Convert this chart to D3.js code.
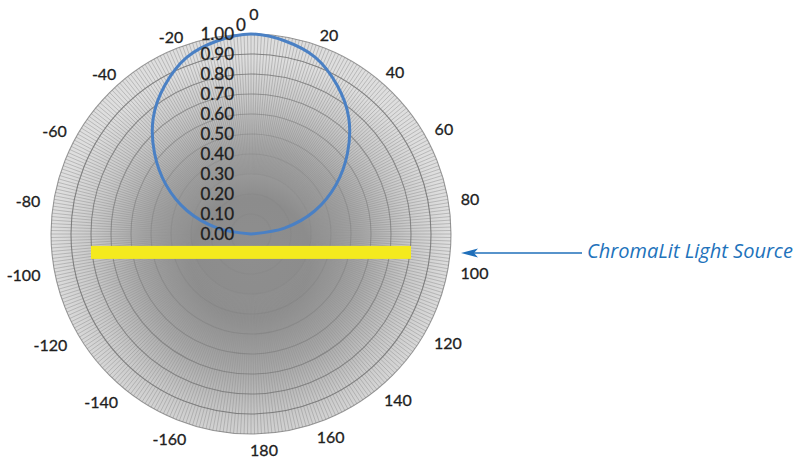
<!DOCTYPE html>
<html><head><meta charset="utf-8">
<script src="https://cdn.jsdelivr.net/npm/d3@7"></script>
<style>html,body{margin:0;padding:0;background:#fff;}svg{display:block;}</style>
</head><body>
<script>
// ---- data ----
const angles = [-90,-80,-70,-60,-50,-40,-30,-20,-10,0,10,20,30,40,50,60,70,80,90];
const intensity = [0.00,0.17,0.34,0.49,0.63,0.76,0.86,0.94,0.98,1.00,0.98,0.94,0.86,0.76,0.63,0.49,0.34,0.17,0.00];
const radialTicks = [0.00,0.10,0.20,0.30,0.40,0.50,0.60,0.70,0.80,0.90,1.00];
const angleTicks = [0,20,40,60,80,100,120,140,160,180,-160,-140,-120,-100,-80,-60,-40,-20];
const angleTickLabels = ["0","20","40","60","80","100","120","140","160","180","-160","-140","-120","-100","-80","-60","-40","-20"];
const spokeAngles = d3.range(0,360,1);
const lightSourceX = [-0.80, 0.80];
const lightSourceY = -0.092;
const annotation = "ChromaLit Light Source";
const radialTitle = "0";

const W=802,H=460,cx=251,cy=234,R=200;
const svg=d3.select("body").append("svg").attr("width",W).attr("height",H);
svg.append("rect").attr("width",W).attr("height",H).attr("fill","#fff");

const r=d3.scaleLinear().domain([0,1]).range([0,R]);
const a=d3.scaleLinear().domain([0,360]).range([0,2*Math.PI]);
const xs=d3.scaleLinear().domain([-1,1]).range([cx-R,cx+R]);
const ys=d3.scaleLinear().domain([-1,1]).range([cy+R,cy-R]);
const FONT="Lato, 'Open Sans', sans-serif";

const defs=svg.append("defs");
const g1=defs.append("radialGradient").attr("id","bg").attr("cx","50%").attr("cy","56%").attr("r","50%");
[[0,"#8e8e8e"],[0.3,"#8c8c8c"],[0.55,"#a6a6a6"],[0.8,"#cacaca"],[1,"#dedede"]].forEach(s=>g1.append("stop").attr("offset",s[0]).attr("stop-color",s[1]));

const g=svg.append("g").attr("transform",`translate(${cx},${cy})`);
g.append("circle").attr("r",r(1)).attr("fill","url(#bg)");
// spokes
g.append("g").selectAll("line").data(spokeAngles).join("line")
 .attr("x1",d=>r(0.3)*Math.sin(a(d))).attr("y1",d=>-r(0.3)*Math.cos(a(d)))
 .attr("x2",d=>r(1)*Math.sin(a(d))).attr("y2",d=>-r(1)*Math.cos(a(d)))
 .attr("stroke","#939393").attr("stroke-width",0.6).attr("stroke-opacity",0.85);
// rings
g.append("g").selectAll("circle").data(radialTicks.filter(d=>d>0)).join("circle")
 .attr("r",d=>r(d)).attr("fill","none")
 .attr("stroke","#727272").attr("stroke-width",1.1).attr("stroke-opacity",d=>d===1?0.7:Math.min(0.85,Math.max(0.12,(d-0.25)*1.4)));

// series
const pts=intensity.map((v,i)=>[a(angles[i]),r(v)]);
g.append("path").attr("d",d3.lineRadial().curve(d3.curveCatmullRomClosed)(pts))
 .attr("fill","none").attr("stroke","#4a80c4").attr("stroke-width",3);

// radial tick labels
svg.append("g").selectAll("text").data(radialTicks).join("text")
 .attr("x",cx-17).attr("y",d=>cy-r(d)+2).attr("text-anchor","end").attr("dominant-baseline","middle")
 .attr("font-family",FONT).attr("font-size",17).attr("fill","#1e1e1e").attr("stroke","#1e1e1e").attr("stroke-width",0.3)
 .text(d=>d.toFixed(2));
svg.append("text").attr("x",cx-10).attr("y",cy-r(1)-7).attr("text-anchor","middle").attr("dominant-baseline","middle")
 .attr("font-family",FONT).attr("font-size",17).attr("fill","#1e1e1e").attr("stroke","#1e1e1e").attr("stroke-width",0.3).text(radialTitle);

// angle labels
const al=svg.append("g").selectAll("text").data(angleTicks).join("text")
 .attr("font-family",FONT).attr("font-size",16).attr("fill","#1e1e1e").attr("stroke","#1e1e1e").attr("stroke-width",0.3)
 .attr("text-anchor","middle").attr("dominant-baseline","middle")
 .text((d,i)=>angleTickLabels[i]);
al.each(function(d){
  const t=a(d<0?d+360:d), s=Math.sin(t), c=Math.cos(t);
  const w=this.getComputedTextLength(), h=14;
  let px=cx+(r(1)+7)*s + s*(w/2+3) + 3;
  let py=cy-(r(1)+7)*c - c*(h/2) + 4;
  if(d<0){px-=7;py+=2;}
  if(d===180){px+=10;}
  if(d===0){py-=8;}
  d3.select(this).attr("x",px).attr("y",py);
});

// light source bar
svg.append("rect").attr("x",xs(lightSourceX[0])).attr("width",xs(lightSourceX[1])-xs(lightSourceX[0]))
 .attr("y",ys(lightSourceY)-6.5).attr("height",13).attr("fill","#f4ea1e");

// annotation arrow
const ay=253;
svg.append("line").attr("x1",472).attr("x2",582).attr("y1",ay).attr("y2",ay).attr("stroke","#1f6fba").attr("stroke-width",1.3);
svg.append("path").attr("d",`M461,${ay} L478,${ay-4.5} L474,${ay} L478,${ay+4.5} Z`).attr("fill","#1f6fba");
const tt=svg.append("text").attr("x",587).attr("y",ay).attr("dominant-baseline","middle")
 .attr("font-family","'Open Sans', sans-serif").attr("font-style","italic").attr("font-size",17).attr("fill","#2172bb").text(annotation);
const tl=tt.node().getComputedTextLength();
tt.attr("font-size",17*206/tl);
</script>
</body></html>
